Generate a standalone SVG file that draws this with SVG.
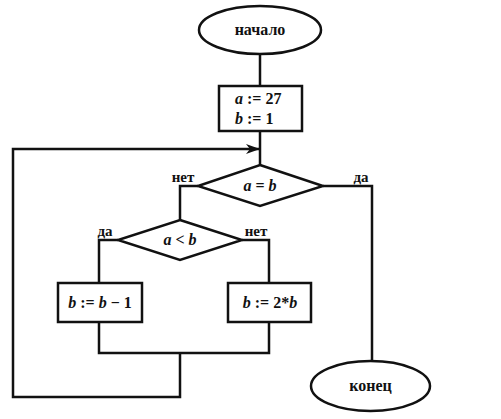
<svg xmlns="http://www.w3.org/2000/svg" width="501" height="419" viewBox="0 0 501 419">
<defs>
<marker id="arr" markerWidth="14" markerHeight="10" refX="13" refY="5" orient="auto" markerUnits="userSpaceOnUse">
<path d="M0,0 L14,5 L0,10 L4,5 Z" fill="#111"/>
</marker>
<style>
.s{fill:#fff;stroke:#111;stroke-width:2.5}
.c{fill:none;stroke:#111;stroke-width:2.5}
.t{font-family:"Liberation Serif",serif;font-weight:bold;font-size:16px;fill:#111;text-anchor:middle}
.a{text-anchor:start}
.l{font-family:"Liberation Serif",serif;font-weight:bold;font-size:15px;fill:#111;text-anchor:middle}
.v{font-style:italic}
</style>
</defs>
<rect width="501" height="419" fill="#fff"/>
<g id="connectors">
<path class="c" d="M260,54 V86"/>
<path class="c" d="M260,131 V165"/>
<path class="c" d="M180,354 V397 H13 V149 H259" marker-end="url(#arr)"/>
<path class="c" d="M198,186 H180 V220"/>
<path class="c" d="M323,186 H372 V361"/>
<path class="c" d="M118,240 H99 V283"/>
<path class="c" d="M242,240 H269 V283"/>
<path class="c" d="M99,322 V353 H269 V322"/>
</g>
<g id="start"><ellipse class="s" cx="260" cy="30" rx="61" ry="24"/><text class="t" x="260" y="35">начало</text></g>
<g id="init"><rect class="s" x="219" y="86" width="83" height="45"/>
<text class="t a" x="235" y="104"><tspan class="v">a</tspan> := 27</text>
<text class="t a" x="235" y="124"><tspan class="v">b</tspan> := 1</text></g>
<g id="cond1"><polygon class="s" points="260,165 323,186 260,206 198,186"/><text class="t" x="260" y="191"><tspan class="v">a</tspan> = <tspan class="v">b</tspan></text></g>
<g id="lbl1"><text class="l" x="183" y="182">нет</text><text class="l" x="361" y="182">да</text></g>
<g id="cond2"><polygon class="s" points="180,220 242,240 180,260 118,240"/><text class="t" x="180" y="245"><tspan class="v">a</tspan> &lt; <tspan class="v">b</tspan></text></g>
<g id="lbl2"><text class="l" x="105" y="236">да</text><text class="l" x="256" y="236">нет</text></g>
<g id="dec"><rect class="s" x="58" y="283" width="84" height="39"/><text class="t" x="100" y="308"><tspan class="v">b</tspan> := <tspan class="v">b</tspan> − 1</text></g>
<g id="dbl"><rect class="s" x="228" y="283" width="83" height="39"/><text class="t" x="270" y="308"><tspan class="v">b</tspan> := 2*<tspan class="v">b</tspan></text></g>
<g id="end"><ellipse class="s" cx="370.5" cy="386" rx="59.5" ry="25"/><text class="t" x="370.5" y="391">конец</text></g>
</svg>
